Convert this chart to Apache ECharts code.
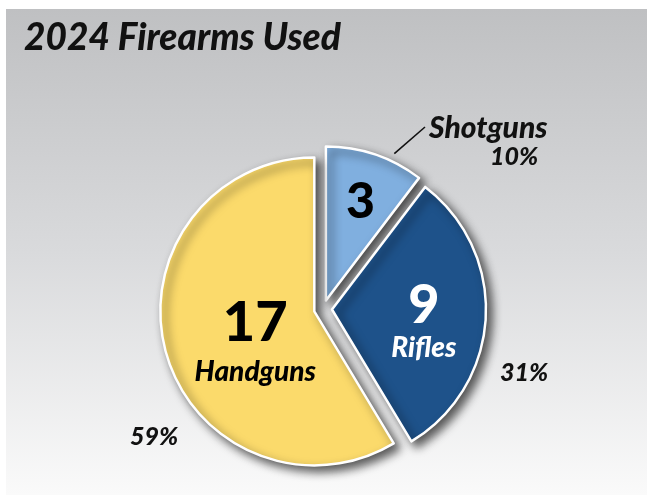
<!DOCTYPE html>
<html>
<head>
<meta charset="utf-8">
<script src="https://cdn.jsdelivr.net/npm/echarts@6/dist/echarts.min.js"></script>
<style>
  html, body { margin: 0; padding: 0; background: #ffffff; }
  #chart { width: 647px; height: 495px; }
</style>
</head>
<body>
<div id="chart"></div>
<script>
// Firearm categories and counts for 2024
const categories = ['Shotguns', 'Rifles', 'Handguns'];
const counts = [3, 9, 17];

// Slice appearance
const sliceColors = ['#80afdf', '#1e528a', '#fbda6b'];
const countColors = ['#000000', '#ffffff', '#000000'];
const countSizes = [50, 54, 56];
const countLineHeights = [48, 50, 65];
const showInnerName = [false, true, true];

// Pie geometry
const PIE_CENTER = [323, 309];
const PIE_RADIUS = 154;
const EXPLODE = 9;

// Shift of the inner count labels from their default spot
const innerShift = [[9, -23], [12, 9], [18, 7]];
// Anchors for the percentage labels outside the pie
const outerPos = [[429, 142], [500, 373], [130, 437]];

const FONT = 'Lato, "Open Sans", sans-serif';
const HEAVY = 900;

const chart = echarts.init(document.getElementById('chart'), null, { renderer: 'canvas' });

const pieData = categories.map((name, i) => ({
  name: name,
  value: counts[i],
  selected: true,
  itemStyle: { color: sliceColors[i] }
}));

const option = {
  animation: false,
  title: {
    text: '2024 Firearms Used',
    left: 19,
    top: 15,
    textStyle: {
      fontFamily: FONT,
      fontSize: 37,
      fontStyle: 'italic',
      fontWeight: HEAVY,
      color: '#111111'
    }
  },
  graphic: [{
    type: 'rect',
    z: -10,
    silent: true,
    shape: { x: 6, y: 9, width: 641, height: 486 },
    style: {
      fill: new echarts.graphic.LinearGradient(0, 0, 0, 1, [
        { offset: 0, color: '#bfc0c2' },
        { offset: 0.5, color: '#d9dadc' },
        { offset: 1, color: '#fafafa' }
      ])
    }
  }],
  series: [
    {
      // visible slices with the counts inside
      type: 'pie',
      center: PIE_CENTER,
      radius: PIE_RADIUS,
      startAngle: 90,
      clockwise: true,
      selectedMode: 'multiple',
      selectedOffset: EXPLODE,
      avoidLabelOverlap: false,
      emphasis: { disabled: true },
      itemStyle: {
        borderColor: '#ffffff',
        borderWidth: 2.5,
        shadowColor: 'rgba(0,0,0,0.65)',
        shadowBlur: 10,
        shadowOffsetX: 5,
        shadowOffsetY: 5
      },
      label: {
        show: true,
        position: 'inside',
        align: 'center',
        formatter: function (p) {
          const i = p.dataIndex;
          let s = '{n' + i + '|' + p.value + '}';
          if (showInnerName[i]) s += '\n{c' + i + '|' + p.name + '}';
          return s;
        },
        rich: (function () {
          const r = {};
          for (let i = 0; i < categories.length; i++) {
            r['n' + i] = {
              fontFamily: FONT, fontWeight: HEAVY, fontSize: countSizes[i],
              color: countColors[i], lineHeight: countLineHeights[i], align: 'center'
            };
            r['c' + i] = {
              fontFamily: FONT, fontWeight: HEAVY, fontStyle: 'italic', fontSize: 28,
              color: countColors[i], lineHeight: 34, align: 'center'
            };
          }
          return r;
        })()
      },
      labelLine: { show: false },
      labelLayout: function (p) {
        const d = innerShift[p.dataIndex];
        return { dx: d[0], dy: d[1] };
      },
      data: pieData
    },
    {
      // transparent twin carrying the percentage labels
      type: 'pie',
      center: PIE_CENTER,
      radius: PIE_RADIUS,
      startAngle: 90,
      clockwise: true,
      silent: true,
      percentPrecision: 0,
      avoidLabelOverlap: false,
      itemStyle: { color: 'rgba(0,0,0,0)', borderWidth: 0 },
      label: {
        show: true,
        position: 'outside',
        formatter: function (p) {
          const pct = '{p|' + p.percent + '%}';
          return p.dataIndex === 0 ? '{t|' + p.name + '}\n{q|' + p.percent + '%}' : pct;
        },
        rich: {
          t: { fontFamily: FONT, fontWeight: HEAVY, fontStyle: 'italic', fontSize: 30, color: '#111', lineHeight: 30 },
          q: { fontFamily: FONT, fontWeight: HEAVY, fontStyle: 'italic', fontSize: 25, color: '#111', lineHeight: 28, padding: [0, 0, 0, 61] },
          p: { fontFamily: FONT, fontWeight: HEAVY, fontStyle: 'italic', fontSize: 25, color: '#111' }
        }
      },
      labelLine: { show: true, lineStyle: { color: '#111111', width: 1.6 } },
      labelLayout: function (p) {
        const i = p.dataIndex;
        const pos = outerPos[i];
        const res = { x: pos[0], y: pos[1], align: 'left', verticalAlign: 'middle' };
        if (i === 0) {
          // leader from just outside the slice rim up to the label
          const a = 25 * Math.PI / 180;
          const mid = (counts[0] / counts.reduce((s, v) => s + v, 0)) * Math.PI;
          const cx = PIE_CENTER[0] + EXPLODE * Math.sin(mid);
          const cy = PIE_CENTER[1] - EXPLODE * Math.cos(mid);
          const r0 = PIE_RADIUS + 8;
          const sx = cx + r0 * Math.sin(a), sy = cy - r0 * Math.cos(a);
          const ex = pos[0] - 4, ey = pos[1] - 15;
          res.labelLinePoints = [[sx, sy], [ex, ey], [ex, ey]];
        } else {
          res.labelLinePoints = [[0, 0], [0, 0], [0, 0]];
        }
        return res;
      },
      data: categories.map((name, i) => ({
        name: name,
        value: counts[i],
        labelLine: { show: i === 0 }
      }))
    }
  ]
};

chart.setOption(option);
</script>
</body>
</html>
